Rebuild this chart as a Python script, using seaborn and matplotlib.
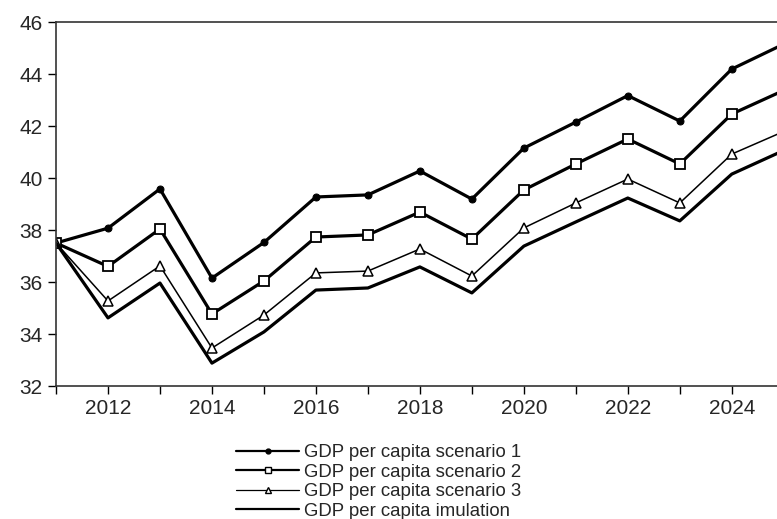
import matplotlib
matplotlib.use("Agg")
import matplotlib.pyplot as plt
import seaborn as sns
import pandas as pd

# values
years = list(range(2011, 2026))
scenario_1 = [37.5, 38.07, 39.58, 36.15, 37.52, 39.27, 39.35, 40.27, 39.19,
              41.15, 42.15, 43.17, 42.19, 44.19, 45.15]
scenario_2 = [37.5, 36.6, 38.04, 34.77, 36.04, 37.73, 37.81, 38.69, 37.65,
              39.54, 40.54, 41.5, 40.54, 42.46, 43.37]
scenario_3 = [37.5, 35.27, 36.62, 33.46, 34.73, 36.35, 36.42, 37.27, 36.23,
              38.08, 39.04, 39.96, 39.04, 40.92, 41.79]
simulation = [37.5, 34.62, 35.96, 32.88, 34.08, 35.69, 35.77, 36.58, 35.58,
              37.38, 38.31, 39.23, 38.35, 40.15, 41.06]
labels = ["GDP per capita scenario 1", "GDP per capita scenario 2",
          "GDP per capita scenario 3", "GDP per capita imulation"]

df = pd.DataFrame({"year": years, labels[0]: scenario_1, labels[1]: scenario_2,
                   labels[2]: scenario_3, labels[3]: simulation})

sns.set_style("ticks")
plt.rcParams['font.family'] = ['Liberation Sans', 'DejaVu Sans']

fig = plt.figure(figsize=(7.77, 5.19), dpi=100)
ax = fig.add_axes([56 / 777, 1 - 386 / 519, 1 - 56 / 777, (386 - 22) / 519])

styles = [
    dict(marker="o", markersize=5, markerfacecolor="black", markeredgecolor="black", linewidth=2.3),
    dict(marker="s", markersize=6.5, markerfacecolor="white", markeredgecolor="black",
         markeredgewidth=1.3, linewidth=2.3),
    dict(marker="^", markersize=6.5, markerfacecolor="white", markeredgecolor="black",
         markeredgewidth=1.1, linewidth=1.1),
    dict(marker=None, linewidth=2.3),
]

for lab, st in zip(labels, styles):
    sns.lineplot(data=df, x="year", y=lab, ax=ax, color="black", label=lab,
                 legend=False, **st)

ax.set_xlim(2011, 2024.87)
ax.set_ylim(32, 46)
ax.set_xticks(range(2012, 2025, 2))
ax.set_xticks(range(2011, 2025), minor=True)
ax.set_yticks(range(32, 47, 2))
ax.tick_params(axis="both", which="major", labelsize=15, length=6, width=1, color="black")
ax.tick_params(axis="x", which="minor", length=6, width=1, color="black")
ax.set_xlabel("")
ax.set_ylabel("")
ax.spines["right"].set_visible(False)
for s in ["left", "top", "bottom"]:
    ax.spines[s].set_linewidth(1.2)
    ax.spines[s].set_color("#333333")

handles, labs = ax.get_legend_handles_labels()
leg = fig.legend(handles, labs, loc="upper left", bbox_to_anchor=(236 / 777, 1 - 444 / 519),
                 frameon=False, fontsize=13.4, handlelength=3.4, handletextpad=0.25,
                 labelspacing=0.14, borderpad=0, borderaxespad=0)
# smaller markers and thinner lines in the legend, like the original
for h, ms, lw in zip(leg.legend_handles, [3.5, 4.5, 4.5, 0], [1.6, 1.6, 0.9, 1.6]):
    h.set_markersize(ms)
    h.set_linewidth(lw)
    h.set_markeredgewidth(1.0)

fig.savefig("out.png", dpi=100)
